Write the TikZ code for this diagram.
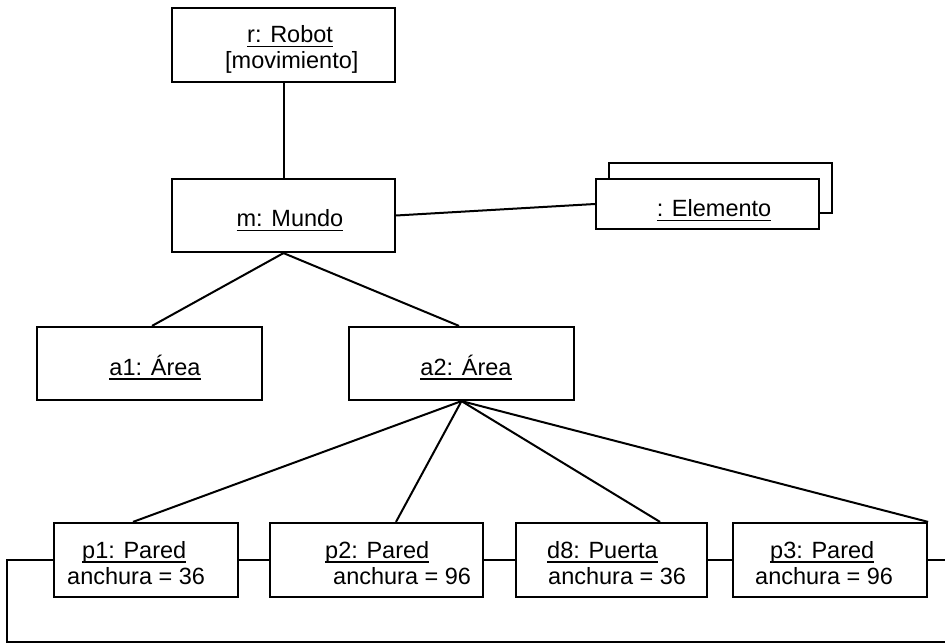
\documentclass[tikz,border=0pt]{standalone}
\usepackage{fontspec}
\setmainfont{Liberation Sans}
% underline at a fixed depth below the baseline (crosses descenders)
\newsavebox{\ulbox}
\newcommand{\uln}[1]{\sbox\ulbox{#1}\rlap{\rule[-4.5pt]{\wd\ulbox}{1.6pt}}\usebox\ulbox}
\begin{document}
\begin{tikzpicture}[x=1pt,y=-1pt,
  obj/.style={draw, line width=2.2pt, fill=white, inner sep=0pt, rectangle},
  lbl/.style={inner sep=0pt, font=\fontsize{23.5}{26}\selectfont},
  link/.style={line width=2pt}]
\useasboundingbox (0,0) rectangle (945,644);
\clip (0,0) rectangle (945,644);

% objects
\node[obj, minimum width=223pt, minimum height=74pt] (robot) at (283.5,45) {};
\node[obj, minimum width=223pt, minimum height=73pt] (mundo) at (283.5,215.5) {};
\node[obj, minimum width=223pt, minimum height=50pt] (elemback) at (720.5,188) {};
\node[obj, minimum width=223pt, minimum height=50pt] (elem) at (707.5,204) {};
\node[obj, minimum width=225pt, minimum height=73pt] (a1) at (149.5,363.5) {};
\node[obj, minimum width=225pt, minimum height=73pt] (a2) at (461.5,363.5) {};
\node[obj, minimum width=184pt, minimum height=74pt] (p1) at (146,560) {};
\node[obj, minimum width=213pt, minimum height=74pt] (p2) at (376.5,560) {};
\node[obj, minimum width=191pt, minimum height=74pt] (d8) at (611.5,560) {};
\node[obj, minimum width=194pt, minimum height=74pt] (p3) at (830,560) {};

% links
\draw[link] (robot.south) -- (mundo.north);
\draw[link] (mundo.east) -- (elem.west);
\draw[link] (mundo.south) -- ([xshift=2.5pt]a1.north);
\draw[link] (mundo.south) -- ([xshift=-2.5pt]a2.north);
\draw[link] (a2.south) -- ([xshift=-13pt]p1.north);
\draw[link] (a2.south) -- ([xshift=19.5pt]p2.north);
\draw[link] (a2.south) -- ([xshift=48.5pt]d8.north);
\draw[link] (a2.south) -- (p3.north east);
\draw[link] (p1) -- (p2);
\draw[link] (p2) -- (d8);
\draw[link] (d8) -- (p3);
\coordinate (loopL) at (7,642);
\coordinate (loopR) at (960,642);
\draw[link] (p1.west) -| (loopL) -- (loopR) |- (p3.east);

% labels
\node[lbl, anchor=base west] (robot-t) at (225,43)
  {\vtop{\hbox{\hspace{22pt}\uln{r: Robot}}\hbox{[movimiento]}}};
\node[lbl, anchor=base] (mundo-t) at (290,227) {\uln{m: Mundo}};
\node[lbl, anchor=base] (elem-t) at (714,217) {\uln{: Elemento}};
\node[lbl, anchor=base] (a1-t) at (155,375) {\uln{a1: Área}};
\node[lbl, anchor=base] (a2-t) at (466,375) {\uln{a2: Área}};
\node[lbl, anchor=base west] (p1-t) at (67,558)
  {\vtop{\hbox{\hspace{15pt}\uln{p1: Pared}}\hbox{anchura = 36}}};
\node[lbl, anchor=base west] (p2-t) at (325,558)
  {\vtop{\hbox{\uln{p2: Pared}}\hbox{\hspace{8pt}anchura = 96}}};
\node[lbl, anchor=base west] (d8-t) at (547,558)
  {\vtop{\hbox{\uln{d8: Puerta}}\hbox{\hspace{1pt}anchura = 36}}};
\node[lbl, anchor=base west] (p3-t) at (755,558)
  {\vtop{\hbox{\hspace{15pt}\uln{p3: Pared}}\hbox{anchura = 96}}};
\end{tikzpicture}
\end{document}
